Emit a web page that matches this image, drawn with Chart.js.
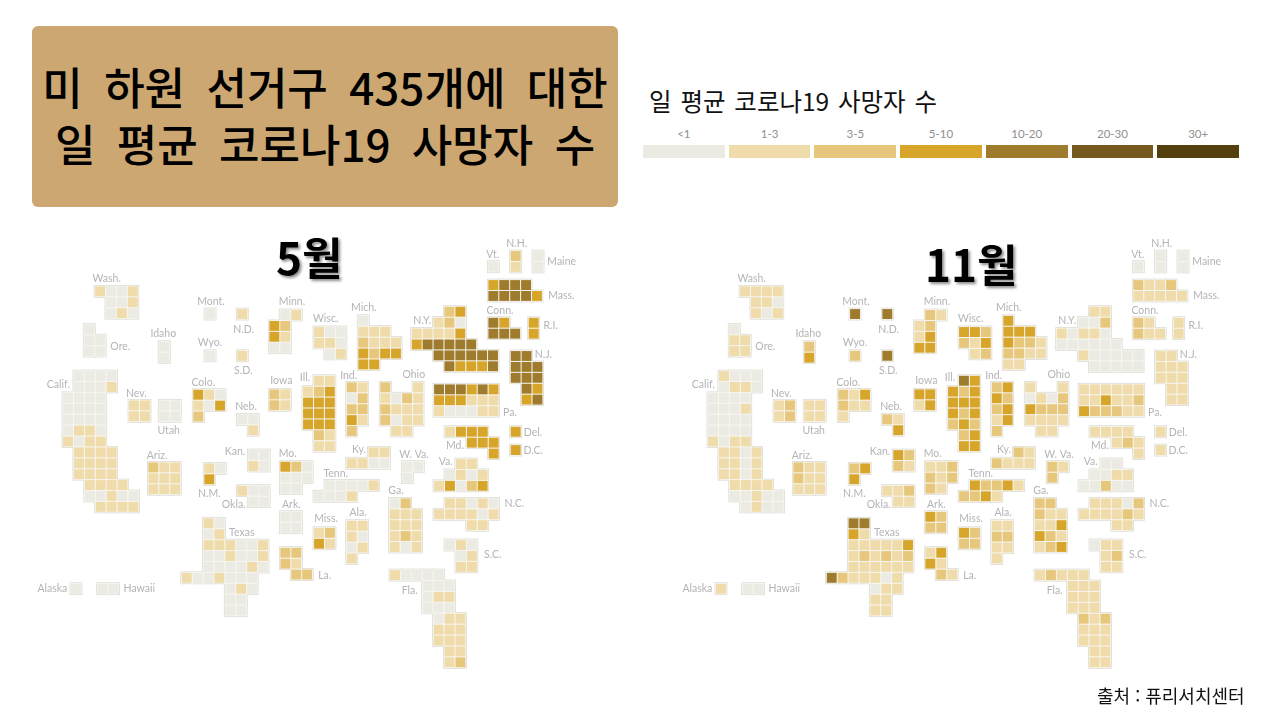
<!DOCTYPE html>
<html lang="ko">
<head>
<meta charset="utf-8">
<title>일 평균 코로나19 사망자 수</title>
<script src="https://cdn.jsdelivr.net/npm/chart.js@4/dist/chart.umd.min.js"></script>
<style>
  html, body { margin: 0; background: #fff; }
  body { position: relative; width: 1280px; height: 720px; overflow: hidden; font-family: "Noto Sans CJK KR", sans-serif; }
  canvas { position: absolute; top: 230px; }
  #mayMap { left: 0; }
  #novMap { left: 645px; }
  .headline { position: absolute; left: 32px; top: 26px; width: 586px; height: 181px; background: #cca772; border-radius: 6px;
    color: #000; font-size: 44px; font-weight: 500; line-height: 57px; text-align: center; word-spacing: 9px; white-space: nowrap; }
  .headline div { position: relative; top: 32px; }
  .legend-title { position: absolute; left: 649px; top: 84px; font-size: 24.5px; line-height: 34px; color: #111; word-spacing: 2px; }
  .legend { position: absolute; left: 643px; top: 127px; width: 596px; display: flex; gap: 4px; }
  .legend div { flex: 1; text-align: center; font: 11.5px Lato, sans-serif; color: #8f8f8f; }
  .legend i { display: block; height: 13px; margin-top: 5px; }
  .month { position: absolute; font-size: 44px; font-weight: 700; line-height: 50px; color: #000; text-shadow: 2px 2px 3px rgba(0,0,0,.45); }
  .source { position: absolute; left: 1097px; top: 684px; font-size: 18px; line-height: 22px; color: #111; }
</style>
</head>
<body>
<div class="headline"><div>미 하원 선거구 435개에 대한</div><div>일 평균 코로나19 사망자 수</div></div>
<div class="legend-title">일 평균 코로나19 사망자 수</div>
<div class="legend" id="legend"></div>
<canvas id="mayMap" width="640" height="470"></canvas>
<canvas id="novMap" width="635" height="470"></canvas>
<div class="month" style="left:276px;top:231px">5월</div>
<div class="month" style="left:925px;top:238px">11월</div>
<div class="source">출처 : 퓨리서치센터</div>

<script>
// Death rate bins, the digit in each tile string below is an index into these
const binLabels = ["<1", "1-3", "3-5", "5-10", "10-20", "20-30", "30+"]
const binColors = ["#ebebe3", "#f0dcaa", "#e6c77c", "#d8a52b", "#9f7c2d", "#75591f", "#54400f"]

const stateNames = ["Wash.", "Ore.", "Calif.", "Nev.", "Utah", "Idaho", "Mont.", "N.D.", "Wyo.", "S.D.", "Colo.", "Neb.", "Minn.",
  "Iowa", "Wisc.", "Mich.", "Ill.", "Ind.", "Ohio", "Ky.", "Mo.", "Tenn.", "W. Va.", "Va.", "Ark.", "Miss.", "Ala.", "La.", "Ga.",
  "N.C.", "S.C.", "Fla.", "Ariz.", "N.M.", "Kan.", "Okla.", "Texas", "Alaska", "Hawaii", "Vt.", "N.H.", "Maine", "Mass.", "Conn.",
  "R.I.", "N.J.", "N.Y.", "Pa.", "Md.", "Del.", "D.C."]

// Top left tile of each state on the cartogram grid
const stateCols = [2.94, 1.95, 0, 6.06, 8.83, 8.83, 13.03, 15.99, 13.03, 15.99, 11.95, 15.99, 18.93,
  18.93, 23.03, 27.09, 22.02, 26.03, 29.11, 26.03, 19.94, 23.03, 31.13, 34.04, 19.94, 23.03, 26.03, 19.94, 29.97,
  34.04, 35.05, 30, 7.83, 12.96, 17, 15.99, 10.89, 0.73, 3.18, 39.02, 41.07, 43.12, 39.02, 39.02,
  42.72, 41.07, 31.99, 34.04, 35.05, 41.07, 41.07]
const stateRows = [3.24, 6.72, 11.01, 13.7, 13.7, 8.32, 5.32, 5.32, 9.15, 9.15, 12.72, 14.98, 5.41,
  12.69, 6.97, 5.94, 11.44, 12.05, 12.05, 18.01, 19.33, 21.04, 19.33, 19.08, 23.92, 25.39, 24.74, 27.22, 22.69,
  22.69, 26.51, 29.27, 19.39, 19.48, 18.26, 21.53, 24.52, 30.52, 30.52, 0.98, 0, 0, 2.66, 6.12,
  6.12, 9.17, 5.11, 12.23, 16.12, 16.12, 17.8]

// May tiles, one string per row of a state, "." is an empty spot
const mayTiles = [
  ["1001", ".001", ".010"], ["0", "00", "00"],
  [".0000", ".0001", "0000", "0000", "0000", "0110", "1011", ".1111", ".1111", ".1111", "..1111", "..00100", "...1111"],
  ["11", "11"], ["00", "00"], ["0", "0"], ["0"], ["1"], ["0"], ["1"], ["310", "103", "2"], ["00", ".1"], [".01", "32", "31", "00"],
  ["21", "21"], ["100", "110", ".01"], ["0", "111", "2111", "3233", "33"],
  [".11", "123", "333", "333", "333", ".21", ".11"], ["21", "02", "22", "31", "2"], ["2..1", "1021", "2111", "2011", ".11"],
  ["..11", "1100"], ["320", "000", "00"], [".00001", "0001"], ["00", "0"], ["..11.", ".0101", "13023"],
  ["00", "00"], ["12", "31"], ["11", "10", "01", "1"], ["22", "21", ".22"], ["02", "111", "111", "121", "101"],
  [".11010", "111101", "...11"], ["010", ".01", ".11"],
  ["10000", "...000", "...011", "...000", "....011", "....111", "....111", ".....11", ".....12"],
  ["211", "111", "111"], ["10", "3"], ["00", "10"], ["100", ".00"],
  ["..10", "..01", "..111001", "..001001", "..000010", "1001000", "....010", "....00", "....00"],
  ["0"], ["00"], ["0"], ["2", "1"], ["0", "0"], ["3444", "44443"], ["43", "444"], ["3", "3"],
  ["44", "444", "444", ".43", ".34"], ["...23", "..120", "11113", "344444", "..444444", "...43334"],
  ["444343", "333111", "100011"], ["1333", "..333", "....3"], ["3"], ["3"]
]

// November tiles, same states in the same order
const novTiles = [
  ["1111", ".110", ".101"], ["0", "11", "11"],
  [".1000", ".0110", "0000", "0001", "0000", "0000", "1011", ".1101", ".1101", ".1101", "..1111", "..00100", "...0100"],
  ["12", "12"], ["11", "11"], ["2", "3"], ["4"], ["4"], ["2"], ["4"], ["213", "211", "1"], ["21", ".3"], [".21", "12", "13", "33"],
  ["33", "13"], ["332", "213", ".12"], ["3", "333", "3221", "2211", "11"],
  [".43", "323", "333", "323", "232", ".23", ".33"], ["23", "32", "23", "13", "2"], ["1..1", "0102", "3222", "1111", ".11"],
  ["..21", "2111"], ["112", "212", "21"], [".32231", "2231"], ["21", "2"], ["..00.", ".0011", "00200"],
  ["32", "22"], ["32", "22"], ["11", "22", "11", "1"], ["13", "31", ".21"], ["22", "211", "113", "321", "123"],
  [".11102", "111121", "...11"], ["011", ".12", ".11"],
  ["12111", "...111", "...111", "...111", "....212", "....111", "....111", ".....11", ".....11"],
  ["211", "211", "111"], ["23", "3"], ["32", "21"], ["112", ".11"],
  ["..44", "..31", "..111113", "..121212", "..111111", "4211101", "....011", "....11", "....11"],
  ["1"], ["00"], ["0"], ["0", "0"], ["0", "0"], ["2112", "11111"], ["21", "211"], ["1", "1"],
  ["11", "111", "111", ".11", ".11"], ["...11", "..002", "10110", "000000", "..100000", "...00000"],
  ["111111", "113112", "322211"], ["1111", "..121", "....1"], ["1"], ["1"]
]

// Where each state's name sits on the same grid
const labelCols = [3.55, 4.8, -0.89, 6.27, 9.24, 8.74, 13.12, 16.12, 13.03, 16.08, 12.41, 16.33, 20.55,
  19.57, 23.64, 27.13, 21.74, 25.75, 31.72, 26.7, 20.16, 24.56, 31.74, 34.65, 20.49, 23.67, 26.61, 23.55, 30.09,
  40.94, 38.96, 31.35, 8.17, 12.96, 15.32, 15.2, 15.94, -1.44, 6.54, 38.96, 41.17, 45.29, 45.26, 39.63,
  44.28, 43.61, 32.5, 40.55, 35.5, 42.66, 42.69]
const labelRows = [2.08, 8.28, 11.77, 12.6, 16.06, 7.09, 4.16, 6.76, 7.98, 10.55, 11.59, 13.85, 4.19,
  11.47, 5.78, 4.77, 11.17, 10.98, 10.92, 17.73, 18.17, 19.97, 18.19, 18.83, 22.78, 24.13, 23.51, 29.29, 21.53,
  22.69, 27.4, 30.67, 18.32, 21.77, 17.92, 22.84, 25.39, 30.52, 30.52, -0.12, -1.17, 0.55, 3.67, 4.98,
  6.36, 9.06, 5.94, 14.38, 17.43, 16.17, 17.86]

const tilePitch = 10.9
const colMin = -6.24
const rowMin = -2.39

// Turn the row strings into scatter points on the grid
function tilePoints(tiles) {
  const points = []
  tiles.forEach((rows, s) => {
    rows.forEach((row, r) => {
      row.split("").forEach((bin, c) => {
        if (bin === ".") return
        points.push({ x: stateCols[s] + c, y: stateRows[s] + r, bin: Number(bin) })
      })
    })
  })
  return points
}

const stateLabels = {
  id: "stateLabels",
  afterDatasetsDraw(chart) {
    const { ctx, scales } = chart
    ctx.save()
    ctx.font = "10.5px Lato, sans-serif"
    ctx.fillStyle = "#b4b4b8"
    ctx.textAlign = "center"
    ctx.textBaseline = "middle"
    stateNames.forEach((name, i) => {
      ctx.fillText(name, scales.x.getPixelForValue(labelCols[i]), scales.y.getPixelForValue(labelRows[i]))
    })
    ctx.restore()
  },
}

function drawMap(canvasId, tiles) {
  const canvas = document.getElementById(canvasId)
  const points = tilePoints(tiles)
  return new Chart(canvas, {
    type: "scatter",
    data: {
      datasets: [
        { label: "state outline", data: points, order: 3, pointStyle: "rect", pointRadius: 12.8 / Math.SQRT2, pointHoverRadius: 12.8 / Math.SQRT2, pointBorderWidth: 0, pointBackgroundColor: "#dadad3" },
        { label: "tile gap", data: points, order: 2, pointStyle: "rect", pointRadius: 11.4 / Math.SQRT2, pointHoverRadius: 11.4 / Math.SQRT2, pointBorderWidth: 0, pointBackgroundColor: "#f8f7f2" },
        { label: "deaths", data: points, order: 1, pointStyle: "rect", pointRadius: 9.9 / Math.SQRT2, pointHoverRadius: 9.9 / Math.SQRT2, pointBorderWidth: 0, pointBackgroundColor: points.map((p) => binColors[p.bin]) },
      ],
    },
    options: {
      responsive: false,
      animation: false,
      layout: { padding: 0, autoPadding: false },
      plugins: { legend: { display: false }, tooltip: { enabled: false } },
      scales: {
        x: { type: "linear", display: false, min: colMin, max: colMin + canvas.width / tilePitch },
        y: { type: "linear", display: false, reverse: true, min: rowMin, max: rowMin + canvas.height / tilePitch },
      },
    },
    plugins: [stateLabels],
  })
}

document.getElementById("legend").innerHTML = binLabels
  .map((label, i) => `<div>${label.replace("<", "&lt;")}<i style="background:${binColors[i]}"></i></div>`)
  .join("")

drawMap("mayMap", mayTiles)
drawMap("novMap", novTiles)
</script>
</body>
</html>
